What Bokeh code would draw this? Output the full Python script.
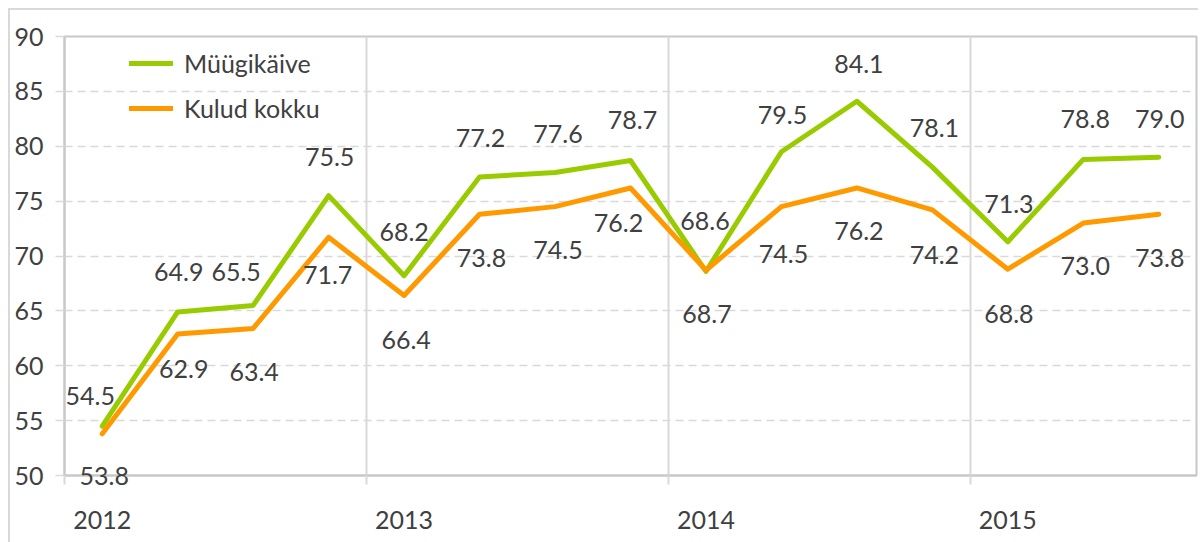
from bokeh.plotting import figure
from bokeh.models import (ColumnDataSource, FixedTicker, Legend, LegendItem,
                          Range1d, Label, LinearAxis)
from bokeh.embed import file_html
from bokeh.resources import INLINE

# ---------------- data ----------------
years = ["2012", "2013", "2014", "2015"]
quarters = ["I", "II", "III", "IV", "I", "II", "III", "IV",
            "I", "II", "III", "IV", "I", "II", "III"]
sales = [54.5, 64.9, 65.5, 75.5, 68.2, 77.2, 77.6, 78.7,
         68.6, 79.5, 84.1, 78.1, 71.3, 78.8, 79.0]
costs = [53.8, 62.9, 63.4, 71.7, 66.4, 73.8, 74.5, 76.2,
         68.7, 74.5, 76.2, 74.2, 68.8, 73.0, 73.8]
series_names = ["Müügikäive", "Kulud kokku"]
y_ticks = [50, 55, 60, 65, 70, 75, 80, 85, 90]

# ---------------- label placement (screen px, styling only) ----------------
sales_dx = [-12, 1, -17, 1, 0, 1, 3, 2, -1, 1, 2, 2, 1, 2, 1]
sales_up = [30, 40, 33, 39, 44, 39, 39, 41, 50, 37, 37, 39, 38, 40, 38]
costs_dx = [2, 6, 1, -1, 2, 2, 3, -12, 1, 2, 2, 2, 1, 2, 1]
costs_down = [42, 35, 44, 38, 44, 44, 43, 35, 44, 47, 43, 45, 45, 43, 44]
costs_on_axis = {0}   # labels that sit on the x axis line (drawn unclipped)

FONT = "Lato"
GREEN = "#99cc00"
ORANGE = "#ff9900"
TEXT = "#404040"
FS = "25px"

x = [i + 0.5 for i in range(len(sales))]
src = ColumnDataSource(dict(x=x, sales=sales, costs=costs))

p = figure(width=1190, height=534,
           x_range=Range1d(0, len(sales)), y_range=Range1d(50, 90),
           output_backend="svg", toolbar_location=None,
           min_border_left=54, min_border_right=4,
           min_border_top=26, min_border_bottom=69)
p.styles = {"margin-left": "8px", "margin-top": "8px",
            "border-left": "2px solid #d9d9d9", "border-top": "2px solid #d9d9d9"}
p.background_fill_color = "white"
p.border_fill_color = "white"
p.outline_line_color = "#c8c8c8"
p.outline_line_width = 2

# y axis
p.yaxis.ticker = FixedTicker(ticks=y_ticks)
p.yaxis.axis_line_color = "#c8c8c8"
p.yaxis.axis_line_width = 2
p.yaxis.major_tick_out = 9
p.yaxis.major_tick_in = 0
p.yaxis.major_tick_line_color = "#d9d9d9"
p.yaxis.major_tick_line_width = 1.5
p.yaxis.minor_tick_line_color = None
p.yaxis.major_label_standoff = 12
p.yaxis.major_label_text_font = FONT
p.yaxis.major_label_text_font_size = FS
p.yaxis.major_label_text_color = TEXT

# x axis line + year-boundary ticks (no labels)
year_pos = [4 * k + 0.5 for k in range(len(years))]
boundaries = [4 * k for k in range(len(years))]
p.xaxis.ticker = FixedTicker(ticks=[], minor_ticks=boundaries)
p.xaxis.axis_line_color = "#c8c8c8"
p.xaxis.axis_line_width = 2
p.xaxis.major_tick_line_color = None
p.xaxis.major_tick_out = 0
p.xaxis.major_tick_in = 0
p.xaxis.minor_tick_out = 9
p.xaxis.minor_tick_in = 0
p.xaxis.minor_tick_line_color = "#d9d9d9"
p.xaxis.minor_tick_line_width = 2
p.xaxis.major_label_standoff = 0
p.xaxis.major_label_text_font_size = "0px"

# grids
p.xgrid.ticker = FixedTicker(ticks=boundaries[1:])
p.xgrid.grid_line_color = "#d9d9d9"
p.xgrid.grid_line_width = 2
p.ygrid.grid_line_color = "#d9d9d9"
p.ygrid.grid_line_width = 1.5
p.ygrid.grid_line_dash = "8 5"

# lines
g = p.line("x", "sales", source=src, line_color=GREEN, line_width=5,
           line_cap="round", line_join="round")
o = p.line("x", "costs", source=src, line_color=ORANGE, line_width=5,
           line_cap="round", line_join="round")

# data labels
def mk_label(xi, v, dx, dy):
    return Label(x=xi, y=v, text=f"{v:.1f}", x_offset=dx, y_offset=dy,
                 text_align="center", text_baseline="middle",
                 text_font=FONT, text_font_size=FS, text_color=TEXT)

for xi, v, dx, up in zip(x, sales, sales_dx, sales_up):
    p.add_layout(mk_label(xi, v, dx, up))
for i, (xi, v, dx, down) in enumerate(zip(x, costs, costs_dx, costs_down)):
    lab = mk_label(xi, v, dx, -down)
    if i in costs_on_axis:
        p.add_layout(lab, "below")   # side panel -> not clipped by the frame
    else:
        p.add_layout(lab)

# year labels under the first quarter of each year
year_axis = LinearAxis(ticker=FixedTicker(ticks=year_pos),
                       major_label_overrides={pos: yr for pos, yr in zip(year_pos, years)},
                       axis_line_color=None, major_tick_line_color=None,
                       minor_tick_line_color=None, major_tick_out=0, major_tick_in=0,
                       major_label_standoff=8, major_label_text_font=FONT,
                       major_label_text_font_size=FS, major_label_text_color=TEXT)
p.add_layout(year_axis, "below")

legend = Legend(items=[LegendItem(label=series_names[0], renderers=[g]),
                       LegendItem(label=series_names[1], renderers=[o])],
                location=(65, 352), padding=0, margin=0, spacing=15,
                glyph_width=44, glyph_height=30, label_height=30,
                label_standoff=11, label_text_font=FONT,
                label_text_font_size=FS, label_text_color=TEXT,
                border_line_color=None, background_fill_alpha=0)
p.add_layout(legend)

open("out.html", "w").write(file_html(p, INLINE))
